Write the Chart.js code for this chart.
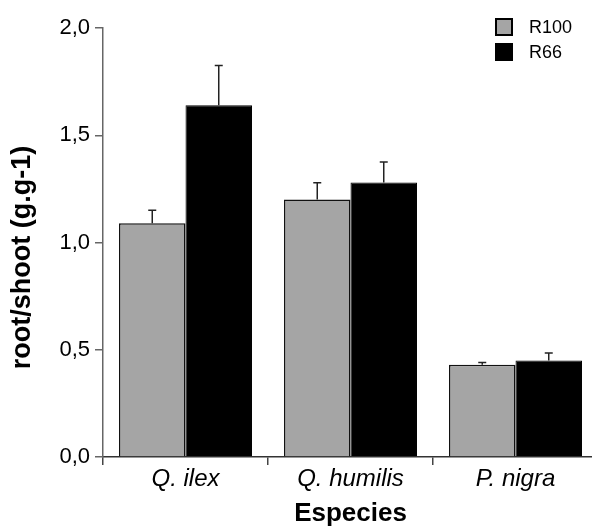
<!DOCTYPE html>
<html>
<head>
<meta charset="utf-8">
<script src="https://cdn.jsdelivr.net/npm/chart.js@4.4.1/dist/chart.umd.min.js"></script>
<style>
  html, body { margin: 0; padding: 0; background: #fff; overflow: hidden; }
  #wrap { width: 598px; height: 527px; position: relative; }
</style>
</head>
<body>
<div id="wrap"><canvas id="rootshoot"></canvas></div>
<script>
Chart.defaults.font.family = "'Liberation Sans', Arial, sans-serif";
Chart.defaults.color = '#000';

const especies = ['Q. ilex', 'Q. humilis', 'P. nigra'];
const r100 = [1.09, 1.20, 0.43];
const r100Err = [0.06, 0.078, 0.01];
const r66 = [1.64, 1.28, 0.45];
const r66Err = [0.185, 0.095, 0.035];
const yTickLabels = ['0,0', '0,5', '1,0', '1,5', '2,0'];

const grey = '#a5a5a5';

// upward-only error bars with a small cap
const errorBars = {
    id: 'errorBars',
    afterDatasetsDraw(chart) {
        const ctx = chart.ctx;
        const y = chart.scales.y;
        ctx.save();
        ctx.strokeStyle = '#222';
        ctx.lineWidth = 1.5;
        chart.data.datasets.forEach((ds, di) => {
            const meta = chart.getDatasetMeta(di);
            meta.data.forEach((bar, i) => {
                const top = y.getPixelForValue(ds.data[i] + ds.errors[i]);
                ctx.beginPath();
                ctx.moveTo(bar.x, bar.y);
                ctx.lineTo(bar.x, top);
                ctx.moveTo(bar.x - 4, top);
                ctx.lineTo(bar.x + 4, top);
                ctx.stroke();
            });
        });
        ctx.restore();
    }
};

// small legend in the top right corner
const boxLegend = {
    id: 'boxLegend',
    afterDraw(chart) {
        const ctx = chart.ctx;
        ctx.save();
        ctx.font = "18px 'Liberation Sans', Arial, sans-serif";
        ctx.textBaseline = 'middle';
        chart.data.datasets.forEach((ds, i) => {
            const bx = 495, by = 18 + i * 25;
            ctx.fillStyle = ds.backgroundColor;
            ctx.fillRect(bx, by, 18, 18);
            ctx.strokeStyle = '#000';
            ctx.lineWidth = 2;
            ctx.strokeRect(bx + 1, by + 1, 16, 16);
            ctx.fillStyle = '#000';
            ctx.fillText(ds.label, 529, by + 10);
        });
        ctx.restore();
    }
};

const data = {
    labels: especies,
    datasets: [{
        label: 'R100',
        data: r100,
        errors: r100Err,
        backgroundColor: grey,
        borderColor: '#111',
        borderWidth: 1.5
    }, {
        label: 'R66',
        data: r66,
        errors: r66Err,
        backgroundColor: '#000',
        borderColor: '#000',
        borderWidth: 1
    }]
};

const options = {
    responsive: true,
    maintainAspectRatio: false,
    animation: false,
    layout: { padding: { top: 28, right: 0, left: 0, bottom: 0 } },
    datasets: {
        bar: { categoryPercentage: 0.806, barPercentage: 1.0 }
    },
    scales: {
        x: {
            afterFit(scale) { scale.height = 70; },
            grid: {
                offset: true,
                drawOnChartArea: false,
                tickLength: 8,
                color: '#444',
                lineWidth: 1.5
            },
            border: { color: '#333', width: 1.5 },
            ticks: {
                padding: 2,
                font: { size: 24, style: 'italic', lineHeight: 1 }
            },
            title: {
                display: true,
                text: 'Especies',
                font: { size: 26, weight: 'bold', lineHeight: 1 },
                padding: { top: 0, bottom: 0 }
            }
        },
        y: {
            min: 0,
            max: 2,
            afterFit(scale) { scale.width = 103; },
            grid: {
                drawOnChartArea: false,
                tickLength: 8,
                color: '#666',
                lineWidth: 1.5
            },
            border: { color: '#666', width: 1.5 },
            ticks: {
                stepSize: 0.5,
                padding: 5,
                font: { size: 22 },
                callback: function (value, index) {
                    return yTickLabels[index];
                }
            },
            title: {
                display: true,
                // trailing spaces push the rotated title a little lower, as in the original
                text: 'root/shoot (g.g-1)    ',
                font: { size: 27, weight: 'bold', lineHeight: 1 },
                padding: { top: 9, bottom: 0 }
            }
        }
    },
    plugins: {
        legend: { display: false },
        tooltip: { enabled: false }
    }
};

new Chart(document.getElementById('rootshoot'), {
    type: 'bar',
    data: data,
    options: options,
    plugins: [errorBars, boxLegend]
});
</script>
</body>
</html>
